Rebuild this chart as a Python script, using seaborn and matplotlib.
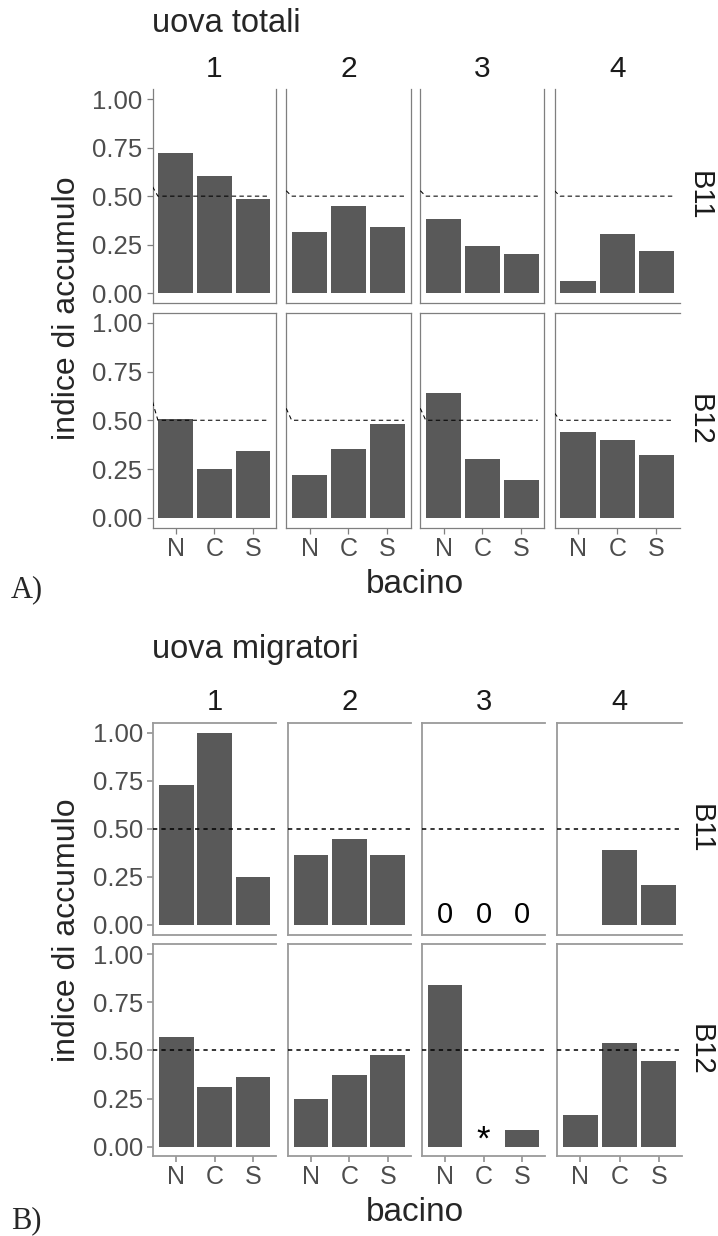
import numpy as np
import pandas as pd
import matplotlib
matplotlib.use("Agg")
import matplotlib.pyplot as plt
import seaborn as sns

# ---- data ----
zones = ["N", "C", "S"]
periods = ["1", "2", "3", "4"]
blocks = ["B11", "B12"]

# uova totali: one row per period, values for N, C, S
tot_B11 = [[0.720, 0.605, 0.485], [0.315, 0.450, 0.340], [0.380, 0.243, 0.202], [0.063, 0.305, 0.218]]
tot_B12 = [[0.505, 0.250, 0.342], [0.219, 0.352, 0.480], [0.640, 0.301, 0.193], [0.440, 0.398, 0.321]]
# start height of the reference line at the left panel edge
tot_ref_start_B11 = [0.549, 0.528, 0.528, 0.528]
tot_ref_start_B12 = [0.595, 0.561, 0.561, 0.537]

# uova migratori
mig_B11 = [[0.730, 1.000, 0.250], [0.366, 0.449, 0.366], [0.0, 0.0, 0.0], [0.0, 0.388, 0.210]]
mig_B12 = [[0.568, 0.308, 0.360], [0.246, 0.370, 0.474], [0.838, 0.0, 0.088], [0.163, 0.537, 0.444]]
mig_labels_B11 = [["", "", ""], ["", "", ""], ["0", "0", "0"], ["", "", ""]]
mig_labels_B12 = [["", "", ""], ["", "", ""], ["", "*", ""], ["", "", ""]]

threshold = 0.5
y_ticks = [0.0, 0.25, 0.5, 0.75, 1.0]
y_tick_labels = ["0.00", "0.25", "0.50", "0.75", "1.00"]

sns.set_style("white")
plt.rcParams["font.family"] = ["Liberation Sans", "DejaVu Sans"]

W, H = 718, 1236
fig = plt.figure(figsize=(W / 100, H / 100), dpi=100)

BAR = "#595959"
TICK_C = "#4d4d4d"
SANS = ["Liberation Sans", "DejaVu Sans"]
SERIF = ["Liberation Serif", "DejaVu Serif"]


def px_axes(x1, x2, y1, y2):
    return fig.add_axes([x1 / W, 1 - y2 / H, (x2 - x1) / W, (y2 - y1) / H])


def ftext(x, y, s, **kw):
    fig.text(x / W, 1 - y / H, s, **kw)


def draw_panel(data, col_px, row_px, style, labels=None, ref_start=None):
    spine_c = "#7f7f7f" if style == "A" else "#9a9a9a"
    spine_w = 0.9 if style == "A" else 1.3
    for r, blk in enumerate(blocks):
        for c, per in enumerate(periods):
            x1, x2 = col_px[c]
            y1, y2 = row_px[r]
            ax = px_axes(x1, x2, y1, y2)
            df = pd.DataFrame({"bacino": zones, "indice": data[blk][c]})
            sns.barplot(data=df, x="bacino", y="indice", order=zones, color=BAR,
                        saturation=1, width=0.9, linewidth=0, ax=ax)
            ax.set_xlim(-0.6, 2.6)
            ax.set_ylim(-0.05, 1.05)
            ax.set_xlabel("")
            ax.set_ylabel("")
            ax.set_facecolor("white")
            if style == "A":
                ys = ref_start[blk][c]
                ax.plot([-0.6, -0.46, 2.43], [ys, threshold, threshold], color="black",
                        lw=0.75, ls=(0, (4.2, 3.2)), zorder=3)
            else:
                ax.axhline(threshold, color="black", lw=1.1, ls=(0, (2.8, 2.7)), zorder=3)
            if labels is not None:
                for i, lab in enumerate(labels[blk][c]):
                    if lab:
                        fs = 21 if lab == "0" else 25
                        yy = 0.05 if lab == "0" else 0.035
                        ax.text(i, yy, lab, ha="center", va="center", fontsize=fs,
                                color="black", family=SANS, zorder=4)
            # borders
            for s in ax.spines.values():
                s.set_color(spine_c)
                s.set_linewidth(spine_w)
            if style == "A":
                ax.spines["top"].set_visible(r == 1)
                ax.spines["right"].set_visible(c < 3)
            else:
                ax.spines["right"].set_visible(False)
            # ticks
            ax.set_yticks(y_ticks)
            if c == 0:
                ax.set_yticklabels(y_tick_labels, fontsize=18.5, color=TICK_C, family=SANS)
                ax.tick_params(axis="y", length=4.5, width=spine_w, color=spine_c, pad=3, left=True)
            else:
                ax.set_yticklabels([])
                ax.tick_params(axis="y", length=0, left=False)
            ax.set_xticks(range(len(zones)))
            if r == 1:
                ax.set_xticklabels(zones, fontsize=18, color=TICK_C, family=SANS)
                ax.tick_params(axis="x", length=4.5, width=spine_w, color=spine_c, pad=2, bottom=True)
            else:
                ax.set_xticklabels([])
                ax.tick_params(axis="x", length=0, bottom=False)
            ax.grid(False)


# ---- A) uova totali ----
colsA = [(152.5, 276.1), (286.2, 410.7), (420.3, 544.4), (554.5, 680.0)]
rowsA = [(89.3, 303), (313, 527.5)]
draw_panel({"B11": tot_B11, "B12": tot_B12}, colsA, rowsA, "A",
           ref_start={"B11": tot_ref_start_B11, "B12": tot_ref_start_B12})
ftext(151.5, 32, "uova totali", fontsize=23.5, family=SANS, ha="left", va="baseline")
for (x1, x2), per in zip(colsA, periods):
    ftext((x1 + x2) / 2, 69, per, fontsize=21.5, family=SANS, color="#1a1a1a", ha="center", va="center")
for (y1, y2), blk in zip(rowsA, blocks):
    ftext(700, (y1 + y2) / 2, blk, fontsize=21, family=SANS, color="#1a1a1a",
          rotation=-90, ha="center", va="center")
ftext(67, 308, "indice di accumulo", fontsize=23, family=SANS, rotation=90, ha="center", va="center")
ftext(415, 593, "bacino", fontsize=24, family=SANS, ha="center", va="baseline")
ftext(11, 597, "A)", fontsize=22, family=SERIF, ha="left", va="baseline")

# ---- B) uova migratori ----
colsB = [(153.4, 276.1), (288.0, 410.7), (422.2, 544.9), (556.8, 682.2)]
rowsB = [(723, 934.6), (944.4, 1156.3)]
draw_panel({"B11": mig_B11, "B12": mig_B12}, colsB, rowsB, "B",
           labels={"B11": mig_labels_B11, "B12": mig_labels_B12})
ftext(152.5, 658, "uova migratori", fontsize=23.5, family=SANS, ha="left", va="baseline")
for (x1, x2), per in zip(colsB, periods):
    ftext((x1 + x2) / 2, 701.7, per, fontsize=21, family=SANS, color="#1a1a1a", ha="center", va="center")
for (y1, y2), blk in zip(rowsB, blocks):
    ftext(700.5, (y1 + y2) / 2, blk, fontsize=21, family=SANS, color="#1a1a1a",
          rotation=-90, ha="center", va="center")
ftext(67, 930, "indice di accumulo", fontsize=23, family=SANS, rotation=90, ha="center", va="center")
ftext(415, 1221, "bacino", fontsize=24, family=SANS, ha="center", va="baseline")
ftext(11, 1228, "B)", fontsize=22, family=SERIF, ha="left", va="baseline")

fig.savefig("out.png", dpi=100, facecolor="white")
